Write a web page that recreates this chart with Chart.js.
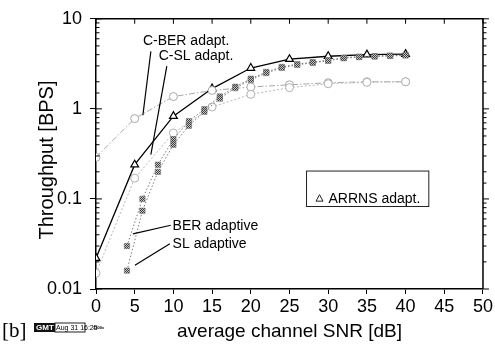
<!DOCTYPE html>
<html>
<head>
<meta charset="utf-8">
<script src="https://cdn.jsdelivr.net/npm/chart.js@4.4.0/dist/chart.umd.min.js"></script>
<style>
  body { margin: 0; background: #fff; }
  canvas { display: block; }
</style>
</head>
<body>
<canvas id="chart" width="495" height="349"></canvas>
<script>
// SNR steps [dB] of the curves sampled every 5 dB
const snrCoarse = [0, 5, 10, 15, 20, 25, 30, 35, 40]
// SNR steps [dB] of the square-marker curves
const snrFine = [4, 6, 8, 10, 12, 14, 16, 18, 20, 22, 24, 26, 28, 30, 32, 34, 36, 38, 40]

// throughput [BPS]
const arrnsAdapt = [0.022, 0.24, 0.83, 1.68, 2.84, 3.56, 3.84, 4.0, 4.05]
const cBerAdapt = [0.29, 0.78, 1.37, 1.6, 1.75, 1.85, 1.95, 2.0, 2.0]
const cSlAdapt = [0.015, 0.17, 0.54, 1.05, 1.45, 1.72, 1.9, 1.97, 2.0]
const berAdaptive = [0.030, 0.10, 0.24, 0.46, 0.73, 0.99, 1.37, 1.76, 2.16, 2.57, 2.92, 3.14, 3.3, 3.47, 3.7, 3.8, 3.85, 3.9, 3.95]
const slAdaptive = [0.016, 0.074, 0.20, 0.40, 0.65, 0.93, 1.3, 1.7, 2.1, 2.5, 2.85, 3.08, 3.25, 3.42, 3.65, 3.76, 3.82, 3.87, 3.92]

const xMin = 0, xMax = 50, xStep = 5
const yMin = 0.01, yMax = 10

const FONT = "'Liberation Sans', Arial, Helvetica, sans-serif"

const canvas = document.getElementById('chart')
const ctx = canvas.getContext('2d')

// checkered fill for the square markers
const pc = document.createElement('canvas')
pc.width = 2; pc.height = 2
const pctx = pc.getContext('2d')
pctx.fillStyle = '#c8c8c8'; pctx.fillRect(0, 0, 2, 2)
pctx.fillStyle = '#3a3a3a'; pctx.fillRect(0, 0, 1, 1); pctx.fillRect(1, 1, 1, 1)
const checker = ctx.createPattern(pc, 'repeat')

const toPoints = (xs, ys) => xs.map((x, i) => ({ x: x, y: ys[i] }))

const isDecade = (v) => Math.abs(Math.log10(v) - Math.round(Math.log10(v))) < 1e-6

// text notes and their pointers, in data units
const notes = [
  { text: 'C-BER adapt.', at: [6.06, 5.6], from: [7.09, 4.35], to: [6.06, 0.85] },
  { text: 'C-SL adapt.', at: [8.1, 3.84], from: [9.15, 2.99], to: [7.09, 0.31] },
  { text: 'BER adaptive', at: [9.9, 0.05], from: [9.66, 0.051], to: [4.77, 0.041] },
  { text: 'SL adaptive', at: [9.9, 0.0318], from: [9.54, 0.0318], to: [5.03, 0.0183] }
]
const legendBox = { x0: 27.2, x1: 43.0, y0: 0.204, y1: 0.0824, textY: 0.1007 }

const framePlugin = {
  id: 'frame',
  afterDraw(chart) {
    const c = chart.ctx
    const a = chart.chartArea
    const xs = chart.scales.x
    const ys = chart.scales.y
    c.save()
    c.strokeStyle = '#000'
    c.lineWidth = 1.5
    c.beginPath()
    c.moveTo(a.left, a.top); c.lineTo(a.right, a.top); c.lineTo(a.right, a.bottom)
    c.stroke()

    c.lineWidth = 1
    c.beginPath()
    // y ticks: minor inside on the left, outside on the right
    ys.ticks.forEach((t) => {
      const py = ys.getPixelForValue(t.value)
      const major = isDecade(t.value)
      const len = major ? 6 : 3.5
      c.moveTo(a.left, py); c.lineTo(a.left + len, py)
      c.moveTo(a.right, py); c.lineTo(a.right + len, py)
    })
    // x ticks on the top edge
    for (let v = xMin; v <= xMax; v += xStep) {
      const px = xs.getPixelForValue(v)
      c.moveTo(px, a.top); c.lineTo(px, a.top + 5)
    }
    c.stroke()

    // y title, drawn here to sit a little below the middle like the original
    c.fillStyle = '#000'
    c.save()
    c.translate(47, 160)
    c.rotate(-Math.PI / 2)
    c.font = '20px ' + FONT
    c.textAlign = 'center'
    c.textBaseline = 'middle'
    c.fillText('Throughput [BPS]', 0, 0)
    c.restore()

    // notes
    c.font = '14px ' + FONT
    c.textBaseline = 'middle'
    c.textAlign = 'left'
    notes.forEach((n) => {
      c.fillText(n.text, xs.getPixelForValue(n.at[0]), ys.getPixelForValue(n.at[1]))
      c.beginPath()
      c.lineWidth = 1.2
      c.moveTo(xs.getPixelForValue(n.from[0]), ys.getPixelForValue(n.from[1]))
      c.lineTo(xs.getPixelForValue(n.to[0]), ys.getPixelForValue(n.to[1]))
      c.stroke()
    })

    // legend box
    const bx0 = xs.getPixelForValue(legendBox.x0)
    const bx1 = xs.getPixelForValue(legendBox.x1)
    const by0 = ys.getPixelForValue(legendBox.y0)
    const by1 = ys.getPixelForValue(legendBox.y1)
    c.lineWidth = 1
    c.strokeStyle = '#222'
    c.strokeRect(bx0, by0, bx1 - bx0, by1 - by0)
    const ty = ys.getPixelForValue(legendBox.textY)
    const tx = bx0 + 13
    c.beginPath()
    c.moveTo(tx, ty - 4); c.lineTo(tx + 3.5, ty + 2.5); c.lineTo(tx - 3.5, ty + 2.5); c.closePath()
    c.stroke()
    c.fillText('ARRNS adapt.', tx + 9, ty)

    // stamp under the plot
    c.font = '21px "Liberation Serif", "DejaVu Serif", serif'
    c.fillText('[b]', 2, 331)
    c.fillStyle = '#111'
    c.fillRect(34, 323, 21, 9)
    c.strokeRect(55, 323, 30, 9)
    c.fillStyle = '#fff'
    c.font = 'bold 8px ' + FONT
    c.fillText('GMT', 36, 328)
    c.fillStyle = '#000'
    c.font = '7px ' + FONT
    c.fillText('Aug 31 16:25', 56, 328)
    c.font = 'bold 4px ' + FONT
    c.fillText('3200v', 93, 328)
    c.restore()
  }
}

new Chart(ctx, {
  type: 'line',
  data: {
    datasets: [
      {
        label: 'SL adaptive',
        data: toPoints(snrFine, slAdaptive),
        borderColor: '#7a7a7a', borderWidth: 1, borderDash: [1.5, 2],
        pointStyle: 'rect', pointRadius: 3.8,
        pointBackgroundColor: checker, pointBorderColor: '#666', pointBorderWidth: 0.5
      },
      {
        label: 'BER adaptive',
        data: toPoints(snrFine, berAdaptive),
        borderColor: '#7a7a7a', borderWidth: 1, borderDash: [1.5, 2],
        pointStyle: 'rect', pointRadius: 3.8,
        pointBackgroundColor: checker, pointBorderColor: '#666', pointBorderWidth: 0.5
      },
      {
        label: 'C-SL adapt.',
        data: toPoints(snrCoarse, cSlAdapt),
        borderColor: '#b8b8b8', borderWidth: 1, borderDash: [2, 2],
        pointStyle: 'circle', pointRadius: 4,
        pointBackgroundColor: '#fff', pointBorderColor: '#b0b0b0', pointBorderWidth: 1
      },
      {
        label: 'C-BER adapt.',
        data: toPoints(snrCoarse, cBerAdapt),
        borderColor: '#a8a8a8', borderWidth: 1, borderDash: [6, 2, 1.5, 2],
        pointStyle: 'circle', pointRadius: 4,
        pointBackgroundColor: '#fff', pointBorderColor: '#a8a8a8', pointBorderWidth: 1
      },
      {
        label: 'ARRNS adapt.',
        data: toPoints(snrCoarse, arrnsAdapt),
        borderColor: '#000', borderWidth: 1.3,
        pointStyle: 'triangle', pointRadius: 4.5,
        pointBackgroundColor: '#fff', pointBorderColor: '#000', pointBorderWidth: 1.2
      }
    ]
  },
  options: {
    responsive: false,
    animation: false,
    layout: { padding: { top: 14, right: 11, left: 0, bottom: 0 } },
    plugins: {
      legend: { display: false },
      tooltip: { enabled: false }
    },
    scales: {
      x: {
        type: 'linear',
        min: xMin, max: xMax,
        ticks: { stepSize: xStep, color: '#000', font: { family: FONT, size: 18 }, padding: 2, maxRotation: 0 },
        grid: { drawOnChartArea: false, drawTicks: true, tickLength: 5, color: '#000', lineWidth: 1 },
        border: { color: '#000', width: 1.5 },
        title: { display: true, text: 'average channel SNR [dB]', color: '#000', font: { family: FONT, size: 19 }, padding: { top: 0, bottom: 6 } },
        afterFit(scale) { scale.height = 60 }
      },
      y: {
        type: 'logarithmic',
        min: yMin, max: yMax,
        ticks: {
          color: '#000', font: { family: FONT, size: 18 }, padding: 8, autoSkip: false,
          callback: (v) => isDecade(v) ? String(Number(v.toPrecision(3))) : ''
        },
        grid: {
          drawOnChartArea: false, drawTicks: true, tickLength: 6,
          color: (c) => c.tick && isDecade(c.tick.value) ? '#000' : 'rgba(0,0,0,0)'
        },
        border: { color: '#000', width: 1.5 },
        title: { display: false },
        afterFit(scale) { scale.width = 96 }
      }
    }
  },
  plugins: [framePlugin]
})
</script>
</body>
</html>
